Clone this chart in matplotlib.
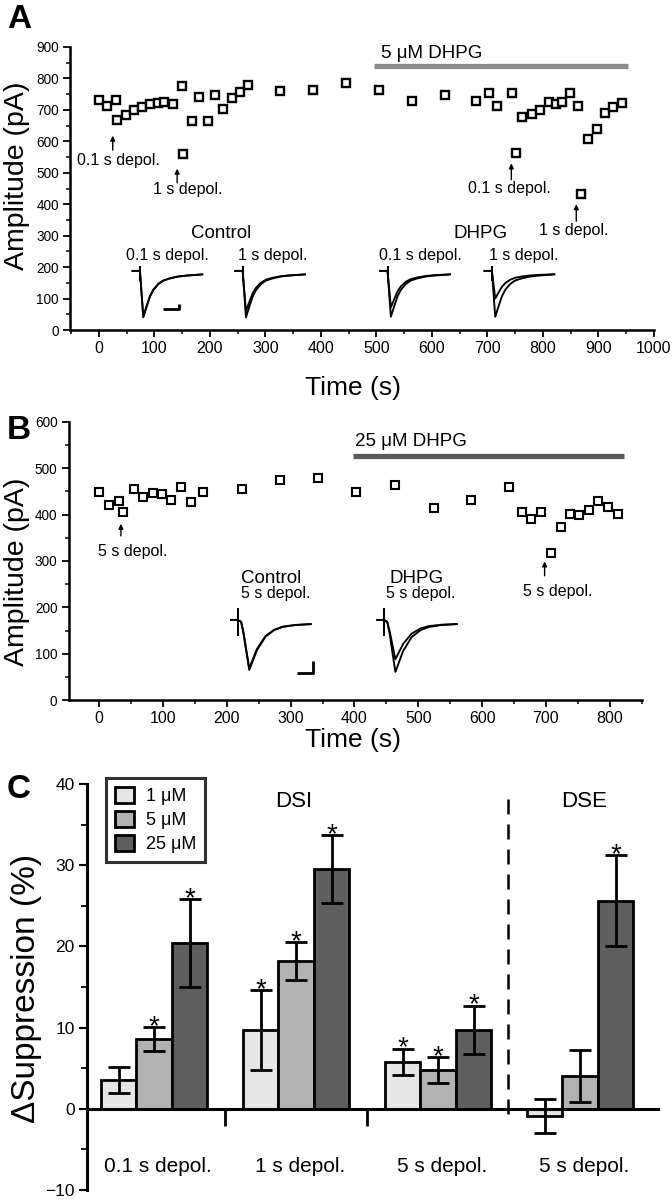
import matplotlib
matplotlib.use('Agg')
import matplotlib.pyplot as plt
from matplotlib.ticker import MultipleLocator
from matplotlib.patches import Patch

plt.rcParams['font.family'] = ['Liberation Sans', 'DejaVu Sans']

# ---------------- data ----------------
# Panel A
a_time = [0, 14, 31, 32, 49, 63, 77, 93, 107, 117, 133, 149, 152, 167, 180, 196, 209, 224, 239, 255,
          269, 326, 385, 445, 504, 564, 624, 680, 703, 718, 745, 751, 762, 780, 795, 810, 823, 835, 848, 863,
          868, 882, 898, 912, 927, 942]
a_amp = [733, 712, 733, 668, 684, 700, 710, 718, 721, 726, 718, 776, 560, 665, 742, 665, 747, 703, 737, 756,
         779, 760, 763, 786, 763, 729, 748, 729, 754, 712, 755, 564, 678, 686, 701, 726, 718, 726, 755, 712,
         431, 606, 639, 689, 708, 722]
a_drug = [496, 954]
a_drug_level = 839

# Panel B
b_time = [0, 15, 31, 38, 54, 68, 84, 99, 113, 128, 144, 163, 224, 284, 343, 403, 463, 524, 583, 642,
          662, 676, 692, 708, 723, 738, 752, 767, 782, 798, 813]
b_amp = [448, 421, 429, 405, 455, 438, 446, 445, 431, 459, 427, 449, 456, 475, 479, 448, 464, 414, 431, 459,
         406, 391, 406, 317, 374, 401, 399, 409, 429, 416, 402]
b_drug = [398, 823]
b_drug_level = 526

# inset traces (shape)
tr_a_dt = [6, 12, 18, 24, 33, 42, 54, 69, 84, 99, 114]
tr_a_frac = [1.0, 0.754, 0.522, 0.370, 0.232, 0.152, 0.101, 0.058, 0.036, 0.022, 0.007]
tr_a_onset = [74, 259, 520, 708]
tr_a_outer = [40, 40, 42, 42]
tr_a_inner = [43, 60, 72, 100]
tr_a_base, tr_a_end = 188, 178

tr_b_dt = [5.4, 9, 18.1, 30.2, 43.6, 57, 70.4, 90.5, 116]
tr_b_frac = [-0.04, 0.2, 1.0, 0.57, 0.28, 0.14, 0.07, 0.03, 0.01]
tr_b_onset = [217, 446]
tr_b_outer = [65, 61]
tr_b_inner = [69, 88]
tr_b_base, tr_b_end = 173, 165

scale_a = ([116, 145, 145], [66, 66, 82])
scale_b = ([310, 335, 335], [59, 59, 85])

# Panel C
groups = ['0.1 s depol.', '1 s depol.', '5 s depol.', '5 s depol.']
conc = ['1 μM', '5 μM', '25 μM']
mean_1 = [3.6, 9.7, 5.8, -0.9]
err_1 = [1.6, 4.9, 1.6, 2.1]
mean_5 = [8.6, 18.2, 4.8, 4.0]
err_5 = [1.5, 2.3, 1.6, 3.2]
mean_25 = [20.4, 29.5, 9.7, 25.6]
err_25 = [5.4, 4.2, 3.0, 5.6]
sig_1 = [False, True, True, False]
sig_5 = [True, True, True, False]
sig_25 = [True, True, True, True]
bar_colors = ['#e6e6e6', '#b2b2b2', '#5e5e5e']

# ---------------- figure ----------------
W, H = 672, 1200
fig = plt.figure(figsize=(W / 100, H / 100), dpi=100)


def px_axes(l, t, r, b):
    return fig.add_axes([l / W, 1 - b / H, (r - l) / W, (b - t) / H])


def style_axes(ax, lw=1.8):
    for s in ['top', 'right']:
        ax.spines[s].set_visible(False)
    for s in ['left', 'bottom']:
        ax.spines[s].set_linewidth(lw)
    ax.tick_params(which='major', direction='out', length=5, width=1.3, pad=3)
    ax.tick_params(which='minor', direction='out', length=3, width=1.1)


def draw_trace(ax, onset, base, end, mn, dts, fracs, pre, art_top, art_bot, lw=1.35):
    xs = [onset - pre, onset] + [onset + d for d in dts]
    ys = [base, base] + [end - f * (end - mn) for f in fracs]
    ax.plot(xs, ys, color='k', lw=lw, solid_capstyle='butt', solid_joinstyle='round')
    ax.plot([onset, onset], [art_top, art_bot], color='k', lw=lw)


arrow_kw = dict(arrowstyle='-|>', color='k', lw=1.0, mutation_scale=7, shrinkA=0, shrinkB=0)

# ---- Panel A ----
axA = px_axes(70, 47, 654, 330)
style_axes(axA)
axA.plot(a_time, a_amp, 's', ms=6.3, mfc='white', mec='k', mew=1.7, ls='none', zorder=3)
axA.plot(a_drug, [a_drug_level] * 2, color='#8a8a8a', lw=3.8, solid_capstyle='butt')
axA.text(509, 879, '5 μM DHPG', fontsize=13.5, ha='left', va='center')
axA.set_xlim(-52, 1000)
axA.set_ylim(0, 900)
axA.xaxis.set_major_locator(MultipleLocator(100))
axA.xaxis.set_minor_locator(MultipleLocator(50))
axA.yaxis.set_major_locator(MultipleLocator(100))
axA.yaxis.set_minor_locator(MultipleLocator(50))
axA.tick_params(axis='x', labelsize=11.5)
axA.tick_params(axis='y', labelsize=9.8)
for i, on in enumerate(tr_a_onset):
    draw_trace(axA, on, tr_a_base, tr_a_end, tr_a_outer[i], tr_a_dt, tr_a_frac, 15, 200, 158)
    draw_trace(axA, on, tr_a_base, tr_a_end, tr_a_inner[i], tr_a_dt, tr_a_frac, 15, 200, 158)
axA.plot(scale_a[0], scale_a[1], color='k', lw=2.0, solid_capstyle='butt')
axA.text(221, 308, 'Control', fontsize=13.5, ha='center', va='center')
axA.text(687, 308, 'DHPG', fontsize=13.5, ha='center', va='center')
for tx, lab in [(124, '0.1 s depol.'), (313, '1 s depol.'), (580, '0.1 s depol.'), (766, '1 s depol.')]:
    axA.text(tx, 238, lab, fontsize=11.5, ha='center', va='center')
axA.text(36, 540, '0.1 s depol.', fontsize=11.5, ha='center', va='center')
axA.annotate('', xy=(25, 618), xytext=(25, 572), arrowprops=arrow_kw)
axA.text(160, 447, '1 s depol.', fontsize=11.5, ha='center', va='center')
axA.annotate('', xy=(141, 513), xytext=(141, 468), arrowprops=arrow_kw)
axA.text(740, 451, '0.1 s depol.', fontsize=11.5, ha='center', va='center')
axA.annotate('', xy=(743, 530), xytext=(743, 478), arrowprops=arrow_kw)
axA.text(856, 318, '1 s depol.', fontsize=11.5, ha='center', va='center')
axA.annotate('', xy=(860, 400), xytext=(860, 346), arrowprops=arrow_kw)
fig.text(17 / W, 1 - 176 / H, 'Amplitude (pA)', rotation=90, fontsize=20.5, ha='center', va='center')
fig.text(353 / W, 1 - 388 / H, 'Time (s)', fontsize=19, ha='center', va='center')
fig.text(19 / W, 1 - 20 / H, 'A', fontsize=24, fontweight='bold', ha='center', va='center')

# ---- Panel B ----
axB = px_axes(68.6, 421.7, 641.6, 700.2)
style_axes(axB)
axB.plot(b_time, b_amp, 's', ms=5.8, mfc='white', mec='k', mew=1.5, ls='none', zorder=3)
axB.plot(b_drug, [b_drug_level] * 2, color='#5a5a5a', lw=3.8, solid_capstyle='butt')
axB.text(401, 557, '25 μM DHPG', fontsize=13.5, ha='left', va='center')
axB.set_xlim(-48, 850)
axB.set_ylim(0, 600)
axB.xaxis.set_major_locator(MultipleLocator(100))
axB.xaxis.set_minor_locator(MultipleLocator(50))
axB.yaxis.set_major_locator(MultipleLocator(100))
axB.yaxis.set_minor_locator(MultipleLocator(50))
axB.tick_params(axis='x', labelsize=11.5)
axB.tick_params(axis='y', labelsize=9.8)
for i, on in enumerate(tr_b_onset):
    draw_trace(axB, on, tr_b_base, tr_b_end, tr_b_outer[i], tr_b_dt, tr_b_frac, 12, 196, 140)
    draw_trace(axB, on, tr_b_base, tr_b_end, tr_b_inner[i], tr_b_dt, tr_b_frac, 12, 196, 140)
axB.plot(scale_b[0], scale_b[1], color='k', lw=2.0, solid_capstyle='butt')
axB.text(270, 263, 'Control', fontsize=13.5, ha='center', va='center')
axB.text(277, 230, '5 s depol.', fontsize=11.5, ha='center', va='center')
axB.text(497, 263, 'DHPG', fontsize=13.5, ha='center', va='center')
axB.text(504, 230, '5 s depol.', fontsize=11.5, ha='center', va='center')
axB.text(52, 320, '5 s depol.', fontsize=11.5, ha='center', va='center')
axB.annotate('', xy=(34, 380), xytext=(34, 354), arrowprops=arrow_kw)
axB.text(719, 234, '5 s depol.', fontsize=11.5, ha='center', va='center')
axB.annotate('', xy=(698, 299), xytext=(698, 268), arrowprops=arrow_kw)
fig.text(17 / W, 1 - 572 / H, 'Amplitude (pA)', rotation=90, fontsize=20.5, ha='center', va='center')
fig.text(353 / W, 1 - 740 / H, 'Time (s)', fontsize=19, ha='center', va='center')
fig.text(19 / W, 1 - 430 / H, 'B', fontsize=24, fontweight='bold', ha='center', va='center')

# ---- Panel C ----
axC = px_axes(87, 784, 658, 1190)
for s in ['top', 'right']:
    axC.spines[s].set_visible(False)
axC.spines['left'].set_linewidth(2.2)
axC.spines['bottom'].set_linewidth(2.2)
axC.spines['bottom'].set_position(('data', 0))
bw = 0.25
xs = list(range(len(groups)))
series = [(mean_1, err_1, sig_1), (mean_5, err_5, sig_5), (mean_25, err_25, sig_25)]
for k, (m, e, sg) in enumerate(series):
    pos = [x + (k - 1) * bw for x in xs]
    axC.bar(pos, m, width=bw, color=bar_colors[k], edgecolor='k', linewidth=2.0, zorder=2)
    axC.errorbar(pos, m, yerr=e, fmt='none', ecolor='k', elinewidth=2.0, capsize=8, capthick=2.0, zorder=3)
    for p, mv, ev, s in zip(pos, m, e, sg):
        if s:
            axC.annotate('*', xy=(p, mv + ev), xytext=(0, -5), textcoords='offset points',
                         ha='center', va='baseline', fontsize=20)
axC.set_xlim(-0.472, 3.549)
axC.set_ylim(-10, 40)
axC.yaxis.set_major_locator(MultipleLocator(10))
axC.yaxis.set_minor_locator(MultipleLocator(5))
axC.tick_params(axis='y', which='major', direction='out', length=6, width=1.5, labelsize=12.5, pad=3)
axC.tick_params(axis='y', which='minor', direction='out', length=4, width=1.3)
axC.set_xticks([0.5, 1.5])
axC.set_xticklabels([])
axC.tick_params(axis='x', direction='out', length=12, width=2.0)
axC.plot([2.49, 2.49], [38.2, -1.6], color='k', lw=1.8, ls=(0, (6, 4)))
for x, g in zip(xs, groups):
    axC.text(x + 0.03, -7.1, g, fontsize=15, ha='center', va='center')
axC.text(0.983, 37.9, 'DSI', fontsize=16, ha='center', va='center')
axC.text(3.027, 37.9, 'DSE', fontsize=16, ha='center', va='center')
handles = [Patch(facecolor=c, edgecolor='k', linewidth=2.0, label=l) for c, l in zip(bar_colors, conc)]
leg = fig.legend(handles=handles, loc='upper left', bbox_to_anchor=(106 / W, 1 - 778 / H),
                 fontsize=13, frameon=True, fancybox=False, borderpad=0.5, handlelength=1.05,
                 handleheight=1.0, handletextpad=0.65, labelspacing=0.32, borderaxespad=0)
leg.get_frame().set_edgecolor('k')
leg.get_frame().set_linewidth(2.2)
fig.text(27 / W, 1 - 988 / H, 'ΔSuppression (%)', rotation=90, fontsize=24, ha='center', va='center')
fig.text(19 / W, 1 - 790 / H, 'C', fontsize=24, fontweight='bold', ha='center', va='center')

fig.savefig('out.png', dpi=100)
